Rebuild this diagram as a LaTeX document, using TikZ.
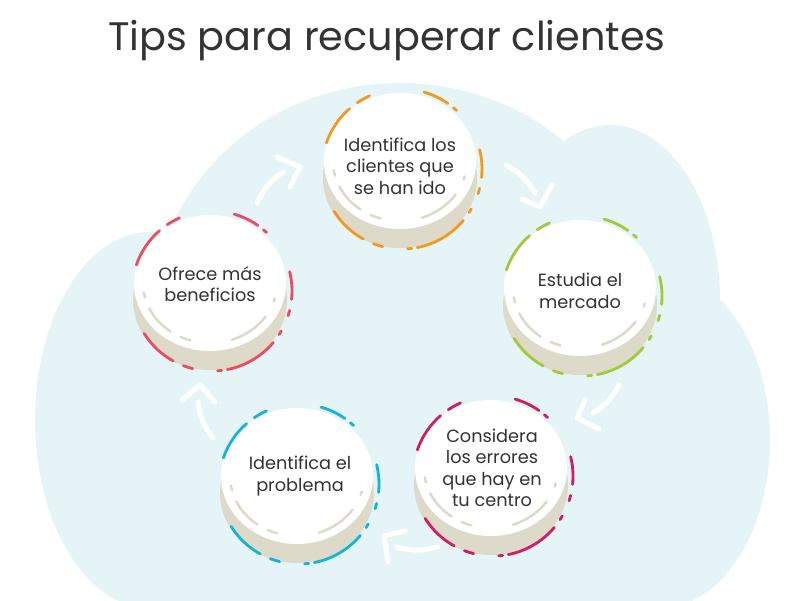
\documentclass[tikz,border=0pt]{standalone}
\usepackage{fontspec}
\setmainfont{Poppins}
\definecolor{cloudblue}{HTML}{E5F4F6}
\definecolor{beige}{HTML}{DEDAC9}
\definecolor{textgray}{HTML}{333333}
\definecolor{ringorange}{HTML}{F39A1E}
\definecolor{ringgreen}{HTML}{A2C93A}
\definecolor{ringmagenta}{HTML}{CF1F63}
\definecolor{ringcyan}{HTML}{16B3D6}
\definecolor{ringred}{HTML}{EA4C60}

\begin{document}
\begin{tikzpicture}[x=0.025cm, y=-0.025cm,
    tiptext/.style={align=center, text=textgray, inner sep=0pt, font=\fontsize{12.6}{15.3}\selectfont},
    heading/.style={text=textgray, inner sep=0pt, anchor=base, font=\fontsize{28.3}{34}\selectfont},
    flow/.style={draw=white, line width=3.5pt, line cap=round, line join=round},
    ring/.style={line width=2pt, line cap=round},
    shine/.style={draw=beige, line width=1.8pt, line cap=round}]
        \useasboundingbox (0,0) rectangle (800,600);
        \clip (0,0) rectangle (800,600);

        % Background cloud
        \fill[cloudblue] (400,310) ellipse[x radius=245, y radius=227];
        \fill[cloudblue] (610,300) ellipse[x radius=110, y radius=175];
        \fill[cloudblue] (660,440) ellipse[x radius=110, y radius=168];
        \fill[cloudblue] (150,420) ellipse[x radius=115, y radius=188];
        \fill[cloudblue] (150,300) rectangle (660,610);

        % Title
        \node[heading] (title) at (387,50) {Tips para recuperar clientes};

        % Draw discs
        \foreach \x/\y/\c in {400/161/ringorange, 580/288/ringgreen, 491/468/ringmagenta, 297/476/ringcyan, 210/283/ringred}{
            \fill[beige] (\x,\y+17) ellipse[x radius=77, y radius=70];
            \fill[white] (\x,\y) ellipse[x radius=76, y radius=68];
            \foreach \a/\b in {-189/-194, -205/-234, -244/-253, -289/-326, -342/-345}
                \draw[shine] ([shift={(\a:67 and 60)}]\x,\y) arc[start angle=\a, end angle=\b, x radius=67, y radius=60];
            \foreach \a/\b in {-114/-124, -131/-161, -55/-74, -47/-50, 6/-14, 18/14, -212/-241, -249/-256, -281/-320, -274/-277, -327/-330}
                \draw[ring, draw=\c] ([shift={(\a:80)}]\x+2,\y+8) arc[start angle=\a, end angle=\b, radius=80];
        }

        % Texts
        \node[tiptext] (t1) at (400,166) {Identifica los\\clientes que\\se han ido};
        \node[tiptext] (t2) at (580,291) {Estudia el\\mercado};
        \node[tiptext] (t3) at (492,468) {Considera\\los errores\\que hay en\\tu centro};
        \node[tiptext] (t4) at (300,476) {Identifica el\\problema};
        \node[tiptext] (t5) at (210,284) {Ofrece más\\beneficios};

        % Arrows
        \coordinate (a1s) at (257,203); \coordinate (a1e) at (283,172);
        \coordinate (a1l) at (277,157); \coordinate (a1t) at (300,167); \coordinate (a1r) at (290,187);
        \coordinate (a2s) at (506,165); \coordinate (a2e) at (535,193);
        \coordinate (a2l) at (522,199); \coordinate (a2t) at (540,207); \coordinate (a2r) at (552,185);
        \coordinate (a3s) at (619,385); \coordinate (a3e) at (593,413);
        \coordinate (a3l) at (585,400); \coordinate (a3t) at (577,418); \coordinate (a3r) at (599,429);
        \coordinate (a4s) at (438,547); \coordinate (a4e) at (397,547);
        \coordinate (a4l) at (405,531); \coordinate (a4t) at (384,536); \coordinate (a4r) at (388,562);
        \coordinate (a5s) at (213,438); \coordinate (a5e) at (198,402);
        \coordinate (a5l) at (182,400); \coordinate (a5t) at (200,385); \coordinate (a5r) at (215,402);

        \draw[flow] (a1s) to[bend left=15] (a1e);
        \draw[flow] (a1l) -- (a1t) -- (a1r);
        \draw[flow] (a2s) to[bend left=15] (a2e);
        \draw[flow] (a2l) -- (a2t) -- (a2r);
        \draw[flow] (a3s) to[bend left=15] (a3e);
        \draw[flow] (a3l) -- (a3t) -- (a3r);
        \draw[flow] (a4s) to[bend left=15] (a4e);
        \draw[flow] (a4l) -- (a4t) -- (a4r);
        \draw[flow] (a5s) to[bend left=15] (a5e);
        \draw[flow] (a5l) -- (a5t) -- (a5r);
    \end{tikzpicture}
\end{document}
